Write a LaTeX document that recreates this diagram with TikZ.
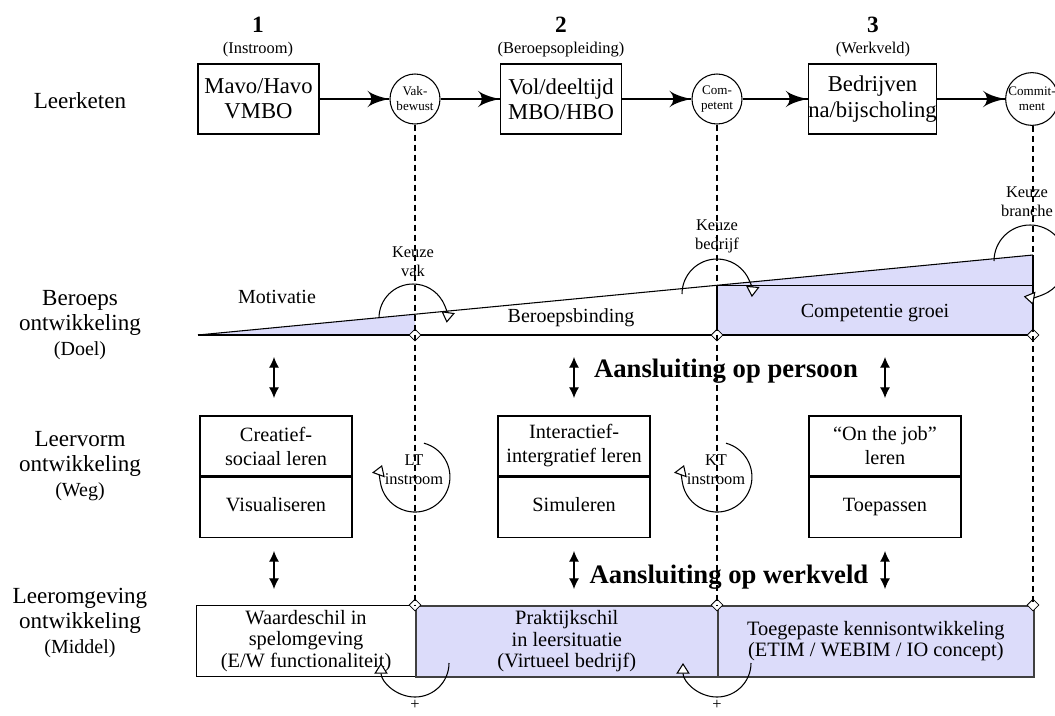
\documentclass[tikz,border=0pt]{standalone}
\usepackage{fontspec}
\setmainfont{Liberation Serif}
\usetikzlibrary{arrows}
\usetikzlibrary{arrows.meta}
\usetikzlibrary{decorations.markings}
\usetikzlibrary{positioning}
\usetikzlibrary{shapes.geometric}
\definecolor{lila}{RGB}{220,220,250}
\tikzset{pijl/.style = {decoration={markings,
                                    mark=at position 1 with {\arrow[scale=3.2]{latex'}}},
                        postaction={decorate}}}
\tikzset{dubbel/.style = {{Latex[length=8pt, width=7.5pt]}-{Latex[length=8pt, width=7.5pt]}}}
\tikzset{keuzepijl/.style = {-{Triangle[fill=white, length=8pt, width=10pt]}}}
\tikzset{streep/.style = {dash pattern=on 4.5pt off 3pt, line width=1.1pt}}
\tikzset{ruit/.style = {draw, fill=white, diamond, inner sep = 0, minimum size = 9, line width=0.6pt}}
\tikzset{rij/.style = {align=center, font=\fontsize{17.3}{19}\selectfont}}
\tikzset{kop/.style = {font=\bfseries\fontsize{17.5}{19}\selectfont}}
\tikzset{sub/.style = {font=\fontsize{12.3}{14}\selectfont}}
\tikzset{blok/.style = {draw, align=center, inner sep = 0, minimum width = 90.75pt,
                        minimum height = 52.5pt, font=\fontsize{17}{19}\selectfont}}
\tikzset{rondje/.style = {draw, circle, fill=white, align=center, inner sep = 0,
                          minimum size = 37.5pt, font=\fontsize{9.8}{11.25}\selectfont}}
\tikzset{vak/.style = {draw, align=center, inner sep = 0, minimum width = 114pt,
                       minimum height = 45pt, font=\fontsize{15.2}{18}\selectfont}}
\tikzset{laag/.style = {draw, align=center, inner sep = 0, anchor = north west,
                        minimum height = 53.25pt, font=\fontsize{15.3}{16}\selectfont}}
\tikzset{klein/.style = {align=center, font=\fontsize{12.3}{14.25}\selectfont}}
\tikzset{midden/.style = {font=\fontsize{15}{17}\selectfont}}
\tikzset{aansl/.style = {font=\bfseries\fontsize{20}{22}\selectfont}}

\begin{document}
\begin{tikzpicture}[x=0.75pt, y=0.75pt, line width=0.8pt]
    \useasboundingbox (0,0) rectangle (1055,-715);

    % linker kolom
    \node (lk) at (80,-101) [rij] {Leerketen};
    \node (lb) at (80,-325) [rij] {Beroeps\\ontwikkeling\\{\fontsize{15}{17}\selectfont (Doel)}};
    \node (lv) at (80,-466) [rij] {Leervorm\\ontwikkeling\\{\fontsize{15}{17}\selectfont (Weg)}};
    \node (lo) at (80,-623) [rij] {Leeromgeving\\ontwikkeling\\{\fontsize{15}{17}\selectfont (Middel)}};

    % leerketen
    \node (k1) at (258,-25) [kop] {1};
    \node (s1) at (258,-50) [sub] {(Instroom)};
    \node (k2) at (561,-25) [kop] {2};
    \node (s2) at (561,-50) [sub] {(Beroepsopleiding)};
    \node (k3) at (873,-25) [kop] {3};
    \node (s3) at (873,-50) [sub] {(Werkveld)};

    \node (b1) at (258.5,-99) [blok] {Mavo/Havo\\VMBO};
    \node (c1) at (415,-99) [rondje] {Vak-\\bewust};
    \node (b2) at (561,-99) [blok] {Vol/deeltijd\\MBO/HBO};
    \node (c2) at (717,-99) [rondje] {Com-\\petent};
    \node (b3) at (872.5,-99) [blok] {Bedrijven\\na/bijscholing};
    \node (c3) at (1032,-99) [rondje] {Commit-\\ment};
    \draw [pijl] (b1) -- (c1);
    \draw [pijl] (c1) -- (b2);
    \draw [pijl] (b2) -- (c2);
    \draw [pijl] (c2) -- (b3);
    \draw [pijl] (b3) -- (c3);

    % beroepsontwikkeling
    \path [fill=lila] (198,-335) -- (415,-314.2) -- (415,-335) -- cycle;
    \path [fill=lila] (717,-335) -- (717,-285.3) -- (1033,-255) -- (1033,-335) -- cycle;
    \draw (198,-335) -- (1033,-335);
    \draw (198,-335) -- (1033,-255);
    \draw (717,-285.3) rectangle (1033,-335);
    \draw (1033,-255) -- (1033,-285.3);
    \node (mo) at (277,-297) [midden] {Motivatie};
    \node (bb) at (571,-318) [midden] {Beroepsbinding};
    \node (cg) at (875,-313) [midden] {Competentie groei};

    % leervorm
    \node (va) at (276,-446) [vak] {Creatief-\\sociaal leren};
    \node (vab) [vak, below=0pt of va] {Visualiseren\strut};
    \node (vb) at (574,-446) [vak] {Interactief-\\intergratief leren};
    \node (vbb) [vak, below=0pt of vb] {Simuleren\strut};
    \node (vc) at (885,-446) [vak] {``On the job''\\leren};
    \node (vcb) [vak, below=0pt of vc] {Toepassen\strut};

    \foreach \x in {274, 574, 885} {
        \draw [dubbel] (\x,-357) -- (\x,-398);
        \draw [dubbel] (\x,-551) -- (\x,-589);
    }
    \node (ap) at (726,-371) [aansl] {Aansluiting op persoon};
    \node (aw) at (729,-577) [aansl] {Aansluiting op werkveld};

    % leeromgeving
    \node (l1) at (196,-605) [laag, minimum width = 164.25pt] {Waardeschil in\\spelomgeving\\(E/W functionaliteit)};
    \node (l2) at (415,-605) [laag, minimum width = 226.5pt, fill=lila, draw=black!75, line width=1.2pt]
        {Praktijkschil\\in leersituatie\\(Virtueel bedrijf)};
    \node (l3) at (717,-605) [laag, minimum width = 237pt, fill=lila, draw=black!75, line width=1.2pt]
        {Toegepaste kennisontwikkeling\\(ETIM / WEBIM / IO concept)};

    % scheidingen
    \node (r1) at (415,-335) [ruit] {};
    \node (r2) at (717,-335) [ruit] {};
    \node (r3) at (1033,-335) [ruit] {};
    \node (o1) at (415,-605) [ruit] {};
    \node (o2) at (717,-605) [ruit] {};
    \node (o3) at (1033,-605) [ruit] {};
    \draw [streep] (c1.south) -- (o1.center);
    \draw [streep] (c2.south) -- (o2.center);
    \draw [streep] ([xshift=0.75pt]c3.south) -- (o3.center);

    % keuzes
    \node (kv) at (413,-262) [klein] {Keuze\\vak};
    \node (kb) at (717,-236) [klein] {Keuze\\bedrijf};
    \node (kr) at (1027,-202) [klein] {Keuze\\branche};
    \draw [keuzepijl] (379,-318) arc [start angle=180, end angle=-8, radius=34];
    \draw [keuzepijl] (682,-294) arc [start angle=180, end angle=-5, radius=35];
    \draw [keuzepijl] (994,-261) arc [start angle=180, end angle=-100, radius=36];

    \node (lt) at (414,-470) [klein] {LT\\instroom};
    \node (kt) at (716,-470) [klein] {KT\\instroom};
    \draw [keuzepijl] (424,-443.2) arc [start angle=75, end angle=-200, radius=35];
    \draw [keuzepijl] (726,-443.2) arc [start angle=75, end angle=-200, radius=35];

    \draw [keuzepijl] (449,-663) arc [start angle=0, end angle=-180, radius=34];
    \draw [keuzepijl] (751,-663) arc [start angle=0, end angle=-180, radius=34];
    \node (p1) at (415,-705) [sub] {+};
    \node (p2) at (717,-705) [sub] {+};
\end{tikzpicture}
\end{document}
